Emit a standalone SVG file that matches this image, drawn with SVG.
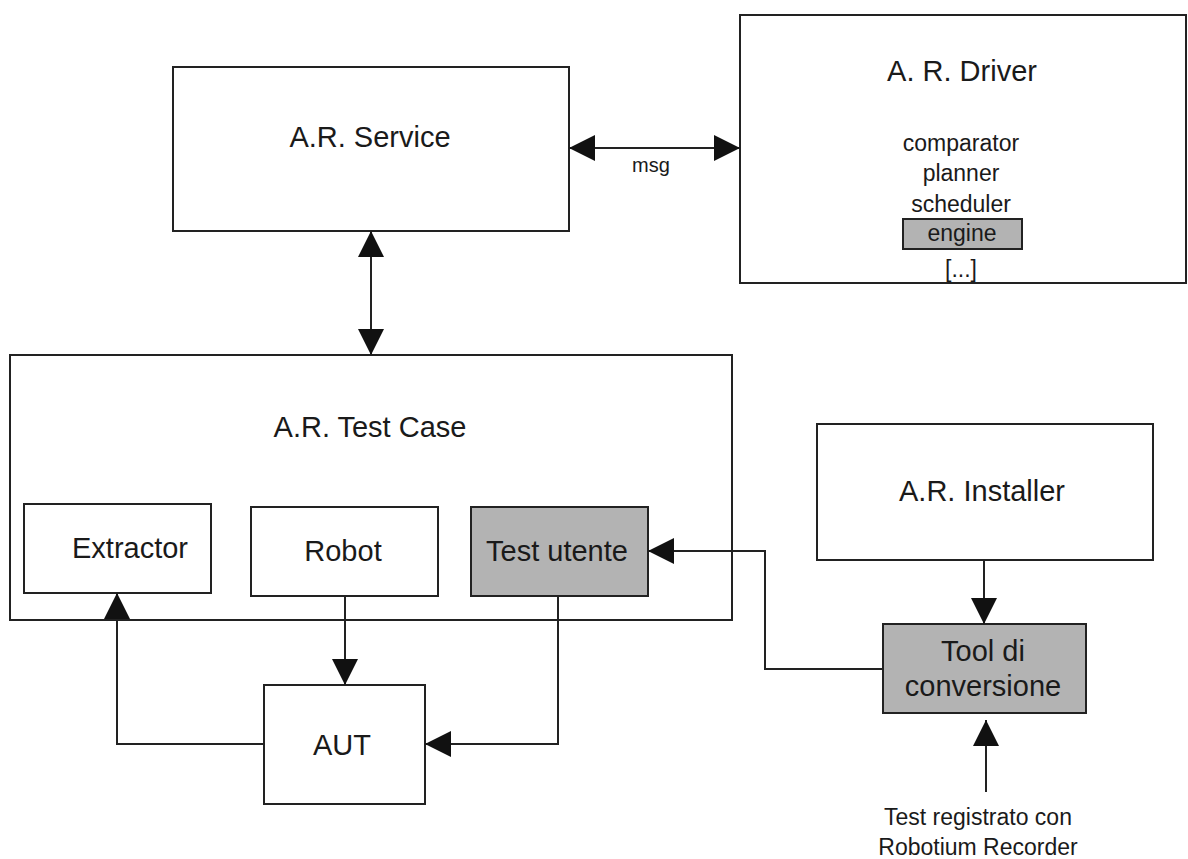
<svg xmlns="http://www.w3.org/2000/svg" width="1188" height="859" viewBox="0 0 1188 859">
  <defs>
    <marker id="arrow" markerUnits="userSpaceOnUse" markerWidth="26" markerHeight="26" viewBox="0 0 24 24" refX="24" refY="12" orient="auto-start-reverse">
      <path d="M0,0 L24,12 L0,24 Z" fill="#111"/>
    </marker>
    <style>
      .box { fill: #ffffff; stroke: #222; stroke-width: 2; }
      .shaded { fill: #b3b3b3; stroke: #222; stroke-width: 2; }
      .edge { fill: none; stroke: #222; stroke-width: 2; }
      text { font-family: "Liberation Sans", Arial, sans-serif; fill: #1a1a1a; text-anchor: middle; }
      .title { font-size: 29px; }
      .item { font-size: 23px; }
      .small { font-size: 20px; }
    </style>
  </defs>
  <rect x="0" y="0" width="1188" height="859" fill="#ffffff"/>

  <g id="service">
    <rect class="box" x="173" y="67" width="396" height="164"/>
    <text class="title" x="370" y="147">A.R. Service</text>
  </g>

  <g id="driver">
    <rect class="box" x="740" y="15" width="446" height="268"/>
    <text class="title" x="962" y="81">A. R. Driver</text>
    <text class="item" x="961" y="151">comparator</text>
    <text class="item" x="961" y="181">planner</text>
    <text class="item" x="961" y="212">scheduler</text>
    <rect class="shaded" x="903" y="219" width="119" height="30"/>
    <text class="item" x="962" y="241">engine</text>
    <text class="item" x="961" y="277">[...]</text>
  </g>

  <g id="test-case">
    <rect class="box" x="10" y="355" width="722" height="265"/>
    <text class="title" x="370" y="437">A.R. Test Case</text>
  </g>

  <g id="extractor">
    <rect class="box" x="24" y="504" width="187" height="89"/>
    <text class="title" x="130" y="558">Extractor</text>
  </g>

  <g id="robot">
    <rect class="box" x="251" y="507" width="187" height="89"/>
    <text class="title" x="343" y="561">Robot</text>
  </g>

  <g id="test-utente">
    <rect class="shaded" x="471" y="507" width="177" height="89"/>
    <text class="title" x="557" y="561">Test utente</text>
  </g>

  <g id="aut">
    <rect class="box" x="264" y="685" width="161" height="119"/>
    <text class="title" x="342" y="755">AUT</text>
  </g>

  <g id="installer">
    <rect class="box" x="817" y="424" width="336" height="136"/>
    <text class="title" x="982" y="501">A.R. Installer</text>
  </g>

  <g id="tool">
    <rect class="shaded" x="883" y="624" width="203" height="89"/>
    <text class="title" x="983" y="661">Tool di</text>
    <text class="title" x="983" y="696">conversione</text>
  </g>

  <g id="recorder-input">
    <text class="item" x="978" y="825">Test registrato con</text>
    <text class="item" x="978" y="855">Robotium Recorder</text>
  </g>

  <!-- connectors, drawn over the boxes they cross -->
  <g id="connectors">
    <line class="edge" x1="569" y1="148" x2="740" y2="148" marker-start="url(#arrow)" marker-end="url(#arrow)"/>
    <text class="small" x="651" y="172">msg</text>
    <line class="edge" x1="371" y1="231" x2="371" y2="355" marker-start="url(#arrow)" marker-end="url(#arrow)"/>
    <line class="edge" x1="345" y1="596" x2="345" y2="685" marker-end="url(#arrow)"/>
    <path class="edge" d="M558,596 V744 H425" marker-end="url(#arrow)"/>
    <path class="edge" d="M264,744 H117 V593" marker-end="url(#arrow)"/>
    <path class="edge" d="M883,669 H765 V551 H648" marker-end="url(#arrow)"/>
    <line class="edge" x1="984" y1="560" x2="984" y2="624" marker-end="url(#arrow)"/>
    <line class="edge" x1="986" y1="792" x2="986" y2="720" marker-end="url(#arrow)"/>
  </g>
</svg>
